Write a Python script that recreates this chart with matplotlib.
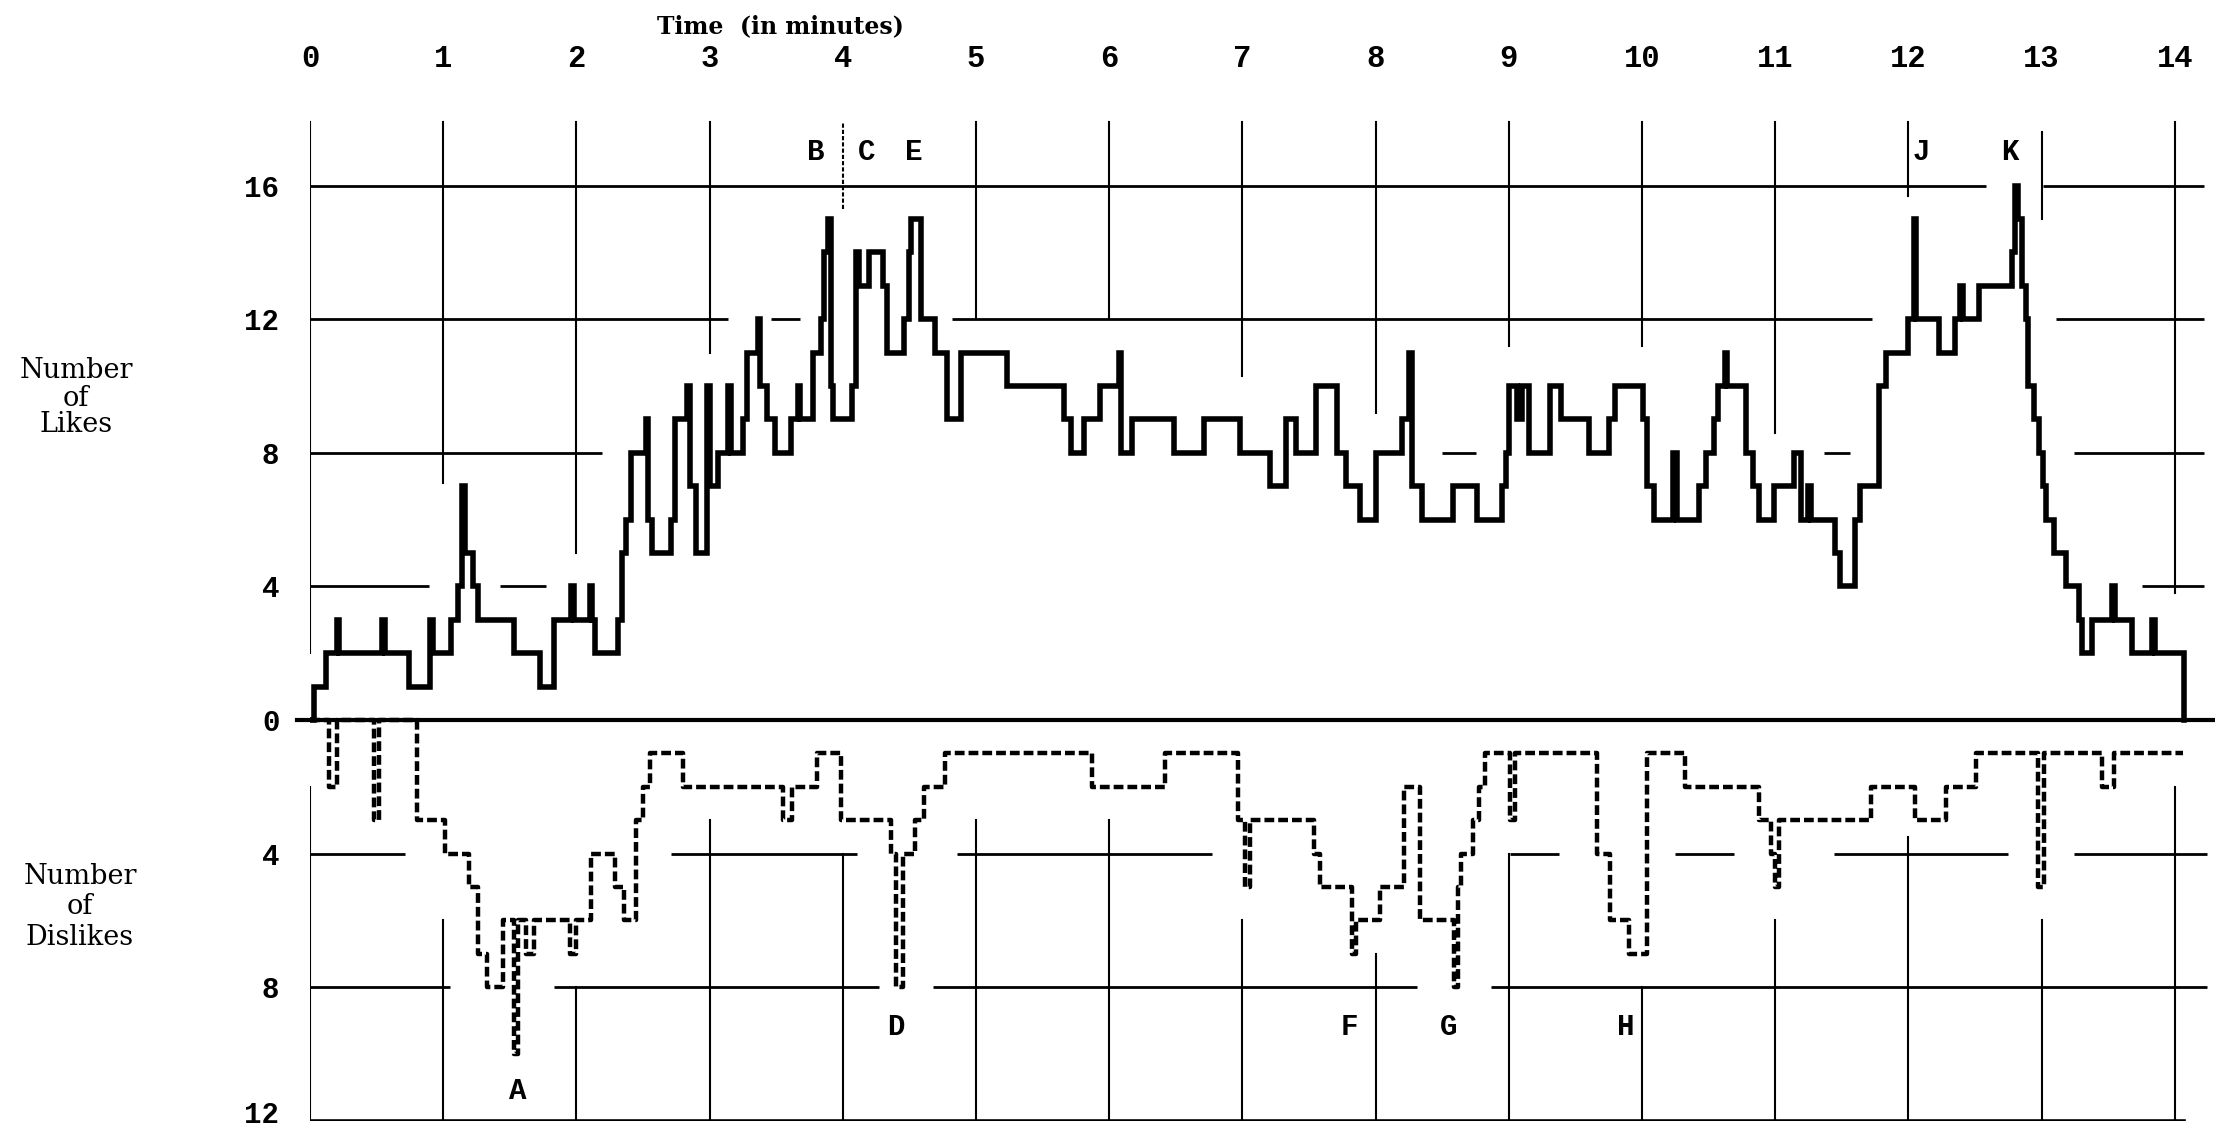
import numpy as np
import matplotlib
matplotlib.use("Agg")
import matplotlib.pyplot as plt

# --- data (time in minutes, counts) ---
likes_t = [0.00, 0.03, 0.12, 0.20, 0.22, 0.54, 0.56, 0.74, 0.90, 0.92,
           1.06, 1.11, 1.14, 1.16, 1.22, 1.26, 1.53, 1.73, 1.83, 1.96,
           1.98, 2.10, 2.12, 2.14, 2.31, 2.34, 2.37, 2.41, 2.52, 2.54,
           2.57, 2.71, 2.74, 2.83, 2.85, 2.90, 2.98, 3.00, 3.06, 3.14,
           3.16, 3.25, 3.28, 3.36, 3.38, 3.43, 3.49, 3.61, 3.66, 3.68,
           3.78, 3.84, 3.86, 3.89, 3.91, 3.93, 4.07, 4.10, 4.12, 4.20,
           4.30, 4.33, 4.46, 4.50, 4.51, 4.59, 4.69, 4.78, 4.89, 5.23,
           5.66, 5.71, 5.81, 5.93, 6.07, 6.09, 6.17, 6.49, 6.71, 6.98,
           7.21, 7.33, 7.40, 7.55, 7.71, 7.78, 7.88, 8.00, 8.20, 8.25,
           8.27, 8.35, 8.58, 8.76, 8.95, 8.98, 9.00, 9.06, 9.10, 9.15,
           9.31, 9.39, 9.60, 9.75, 9.80, 10.01, 10.04, 10.09, 10.23, 10.26,
           10.43, 10.48, 10.54, 10.57, 10.62, 10.64, 10.78, 10.83, 10.88, 10.99,
           11.14, 11.19, 11.25, 11.27, 11.45, 11.49, 11.60, 11.64, 11.78, 11.83,
           12.00, 12.04, 12.06, 12.23, 12.35, 12.39, 12.41, 12.53, 12.78, 12.80,
           12.82, 12.85, 12.88, 12.90, 12.94, 12.98, 13.01, 13.03, 13.09, 13.18,
           13.28, 13.30, 13.38, 13.53, 13.55, 13.68, 13.83, 13.85, 14.07]
likes_n = [0, 1, 2, 3, 2, 3, 2, 1, 3, 2,
           3, 4, 7, 5, 4, 3, 2, 1, 3, 4,
           3, 4, 3, 2, 3, 5, 6, 8, 9, 6,
           5, 6, 9, 10, 7, 5, 10, 7, 8, 10,
           8, 9, 11, 12, 10, 9, 8, 9, 10, 9,
           11, 12, 14, 15, 10, 9, 10, 14, 13, 14,
           13, 11, 12, 14, 15, 12, 11, 9, 11, 10,
           9, 8, 9, 10, 11, 8, 9, 8, 9, 8,
           7, 9, 8, 10, 8, 7, 6, 8, 9, 11,
           7, 6, 7, 6, 7, 8, 10, 9, 10, 8,
           10, 9, 8, 9, 10, 9, 7, 6, 8, 6,
           7, 8, 9, 10, 11, 10, 8, 7, 6, 7,
           8, 6, 7, 6, 5, 4, 6, 7, 10, 11,
           12, 15, 12, 11, 12, 13, 12, 13, 14, 16,
           15, 13, 12, 10, 9, 8, 7, 6, 5, 4,
           3, 2, 3, 4, 3, 2, 3, 2, 0]

dislikes_t = [0.00, 0.14, 0.20, 0.48, 0.52, 0.80, 1.01, 1.19, 1.26, 1.33,
              1.45, 1.53, 1.56, 1.62, 1.68, 1.95, 2.00, 2.11, 2.29, 2.36,
              2.45, 2.50, 2.55, 2.80, 3.55, 3.62, 3.81, 3.99, 4.36, 4.40,
              4.45, 4.54, 4.61, 4.77, 5.87, 6.42, 6.97, 7.02, 7.06, 7.54,
              7.58, 7.82, 7.85, 8.03, 8.21, 8.33, 8.59, 8.62, 8.64, 8.73,
              8.78, 8.82, 9.01, 9.05, 9.66, 9.76, 9.90, 10.04, 10.32, 10.88,
              10.97, 11.00, 11.03, 11.72, 12.05, 12.28, 12.51, 12.97, 13.02, 13.45,
              13.54, 14.06]
dislikes_n = [0, 2, 0, 3, 0, 3, 4, 5, 7, 8,
              6, 10, 6, 7, 6, 7, 6, 4, 5, 6,
              3, 2, 1, 2, 3, 2, 1, 3, 4, 8,
              4, 3, 2, 1, 2, 1, 3, 5, 3, 4,
              5, 7, 6, 5, 2, 6, 8, 5, 4, 3,
              2, 1, 3, 1, 4, 6, 7, 1, 2, 3,
              4, 5, 3, 2, 3, 2, 1, 5, 1, 2,
              1, 1]

minutes = list(range(15))
likes_ticks = [16, 12, 8, 4, 0]
dislikes_ticks = [4, 8, 12]

top_events = ["B", "C", "E", "J", "K"]
top_event_t = [3.80, 4.18, 4.53, 12.10, 12.76]
low_events = ["A", "D", "F", "G", "H"]
low_event_t = [1.56, 4.40, 7.80, 8.55, 9.88]

# --- figure ---
W, H = 2215, 1133
YTOP = 19.3
PX = 33.4          # pixels per count
Y0 = 720           # pixel row of the zero line
fig = plt.figure(figsize=(W / 100, H / 100), dpi=100)
ax = fig.add_axes([310 / W, 1 - (Y0 + 12 * PX) / H, 14.3 * 133.2 / W,
                   (12 + YTOP) * PX / H])
ax.set_xlim(0, 14.3)
ax.set_ylim(-12, YTOP)
for s in ax.spines.values():
    s.set_visible(False)

mono = "Liberation Mono"
serif = "DejaVu Serif"
k = "black"

# broken grid lines, as on the original drawing
hsegs = {16: [(0, 12.58), (13.01, 14.22)],
         12: [(0, 3.14), (3.46, 3.68), (4.82, 11.73), (13.11, 14.22)],
         8: [(0, 2.19), (8.5, 8.75), (11.37, 11.56), (13.24, 14.22)],
         4: [(0, 0.89), (1.43, 1.77), (13.75, 14.22)],
         -4: [(0, 0.71), (2.71, 4.11), (4.86, 6.77), (9.01, 9.38),
              (10.25, 10.69), (11.44, 12.75), (13.24, 14.24)],
         -8: [(0, 1.05), (1.83, 4.27), (4.68, 8.31), (8.87, 14.24)]}
for yv, segs in hsegs.items():
    for a, b in segs:
        ax.plot([a, b], [yv, yv], color=k, lw=2.0, solid_capstyle="butt")
ax.plot([-0.1, 14.3], [0, 0], color=k, lw=3.0, clip_on=False)
ax.plot([0, 14.07], [-12, -12], color=k, lw=2.6)

v_low_likes = [2, 7.1, 5, 11, 15.3, 12, 12, 10.3, 9.2, 11.2, 11.2, 8.6, 15.7, 15, 3.8]
v_top_dis = [-2, -6, -8, -3, -4, -3, -3, -6, -7, -4, -8, -6, -3.5, -6, -2]
for m, lo, hi in zip(minutes, v_low_likes, v_top_dis):
    ls = (0, (2, 1)) if m == 4 else "-"
    top = 17.6 if m == 13 else 17.9
    ax.plot([m, m], [lo, top], color=k, lw=1.5, ls=ls)
    ax.plot([m, m], [-12, hi], color=k, lw=1.5)

# the two recordings
ax.step(likes_t, likes_n, where="post", color=k, lw=4.0,
        solid_joinstyle="miter")
ax.step(dislikes_t, -np.array(dislikes_n), where="post", color=k, lw=3.2,
        ls=(0, (2.2, 0.9)))

# ticks
ax.xaxis.tick_top()
ax.set_xticks(minutes)
ax.set_xticklabels([str(m) for m in minutes], fontfamily=mono,
                   fontweight="bold", fontsize=22)
# the lowest label sits on the page edge, so it is placed by hand below
ytk = likes_ticks + [-d for d in dislikes_ticks[:-1]]
ax.set_yticks(ytk)
ax.set_yticklabels([str(abs(v)) for v in ytk], fontfamily=mono,
                   fontweight="bold", fontsize=21)
ax.tick_params(axis="x", length=0, pad=1)
ax.tick_params(axis="y", length=0, pad=22)
ax.annotate(str(dislikes_ticks[-1]), xy=(0, -dislikes_ticks[-1]),
            xytext=(-22, 4), textcoords="offset points", ha="right",
            va="center", fontfamily=mono, fontweight="bold", fontsize=21,
            annotation_clip=False)

# event letters
for lab, t in zip(top_events, top_event_t):
    ax.text(t, 17.0, lab, ha="center", va="center", fontfamily=mono,
            fontweight="bold", fontsize=21)
for lab, t in zip(low_events, low_event_t):
    yy = -11.1 if lab == "A" else -9.2
    ax.text(t, yy, lab, ha="center", va="center", fontfamily=mono,
            fontweight="bold", fontsize=21)

fig.text(780 / W, 1 - 26 / H, "Time  (in minutes)", ha="center", va="center",
         fontfamily=serif, fontweight="bold", fontsize=17)
fig.text(76 / W, 1 - 398 / H, "Number\nof\nLikes", ha="center", va="center",
         fontfamily=serif, fontsize=19.5, linespacing=1.0)
fig.text(80 / W, 1 - 907 / H, "Number\nof\nDislikes", ha="center",
         va="center", fontfamily=serif, fontsize=19.5, linespacing=1.15)

fig.savefig("out.png", dpi=100, facecolor="white")
